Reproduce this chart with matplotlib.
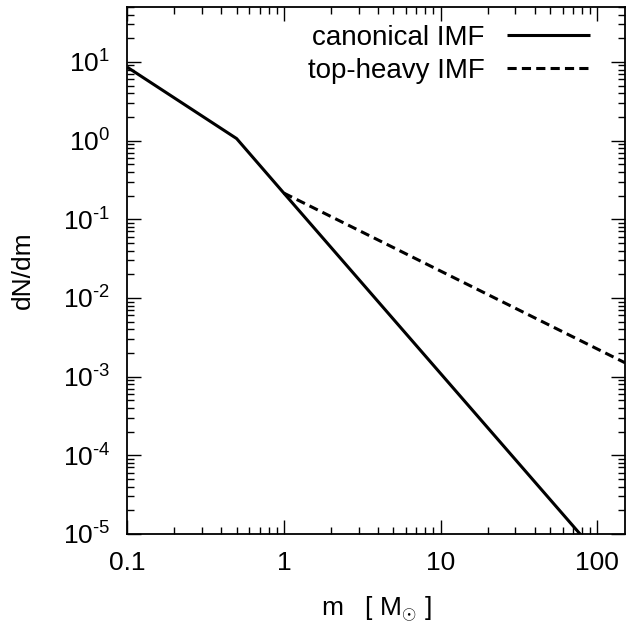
"""Canonical vs top-heavy stellar IMF, dN/dm on log-log axes (gnuplot look)."""
import matplotlib
matplotlib.use("Agg")
from matplotlib import pyplot as plt
from matplotlib.ticker import LogLocator, NullFormatter, FixedLocator, FixedFormatter

plt.rcParams["font.family"] = ["Liberation Sans", "DejaVu Sans"]
plt.rcParams["mathtext.fontset"] = "custom"
plt.rcParams["mathtext.rm"] = "Liberation Sans"
plt.rcParams["mathtext.it"] = "Liberation Sans"
plt.rcParams["mathtext.sf"] = "Liberation Sans"

# broken power laws, read at their break points (straight lines in log-log)
m_canonical = [0.1, 0.5, 1.0, 150.0]
dndm_canonical = [8.6, 1.06, 0.215, 2.2e-6]

m_topheavy = [1.0, 150.0]
dndm_topheavy = [0.215, 1.5e-3]

x_ticks = [0.1, 1, 10, 100]
x_labels = ["0.1", "1", "10", "100"]
y_exps = [-5, -4, -3, -2, -1, 0, 1]
y_ticks = [10.0 ** e for e in y_exps]
# gnuplot prints a plain hyphen in the exponent, not a long minus
y_labels = ["10$^{\\mathrm{%s}}$" % str(e).replace("-", "\u2010") for e in y_exps]

fig = plt.figure(figsize=(6.27, 6.26), dpi=100)
ax = fig.add_axes([0.2026, 0.147, 0.7942, 0.842])

ax.plot(m_canonical, dndm_canonical, color="black", lw=2.2,
        label="canonical IMF", solid_capstyle="butt")
ax.plot(m_topheavy, dndm_topheavy, color="black", lw=2.2,
        dashes=(3, 1.7), label="top-heavy IMF")

ax.set_xscale("log")
ax.set_yscale("log")
ax.set_xlim(0.1, 150)
ax.set_ylim(1e-5, 50)

ax.xaxis.set_major_locator(FixedLocator(x_ticks))
ax.xaxis.set_major_formatter(FixedFormatter(x_labels))
ax.xaxis.set_minor_locator(LogLocator(base=10, subs=range(2, 10)))
ax.xaxis.set_minor_formatter(NullFormatter())
ax.yaxis.set_major_locator(FixedLocator(y_ticks))
ax.yaxis.set_major_formatter(FixedFormatter(y_labels))
ax.yaxis.set_minor_locator(LogLocator(base=10, subs=range(2, 10)))
ax.yaxis.set_minor_formatter(NullFormatter())

ax.tick_params(which="both", direction="in", top=True, right=True,
               width=1.0, labelsize=19)
ax.tick_params(which="major", length=10, pad=12)
ax.tick_params(which="minor", length=5)
for s in ax.spines.values():
    s.set_linewidth(1.3)

ax.set_ylabel("dN/dm", fontsize=19)
ax.yaxis.set_label_coords(-0.185, 0.5)
ax.set_xlabel(r"m   [ M$_{\odot}$ ]", fontsize=19)
ax.xaxis.set_label_coords(0.5, -0.115)

ax.legend(loc="upper right", bbox_to_anchor=(0.952, 0.987), frameon=False,
          markerfirst=False, fontsize=20, handlelength=3.0,
          handletextpad=0.8, labelspacing=0.25, borderaxespad=0)

fig.savefig("out.png", dpi=100)
